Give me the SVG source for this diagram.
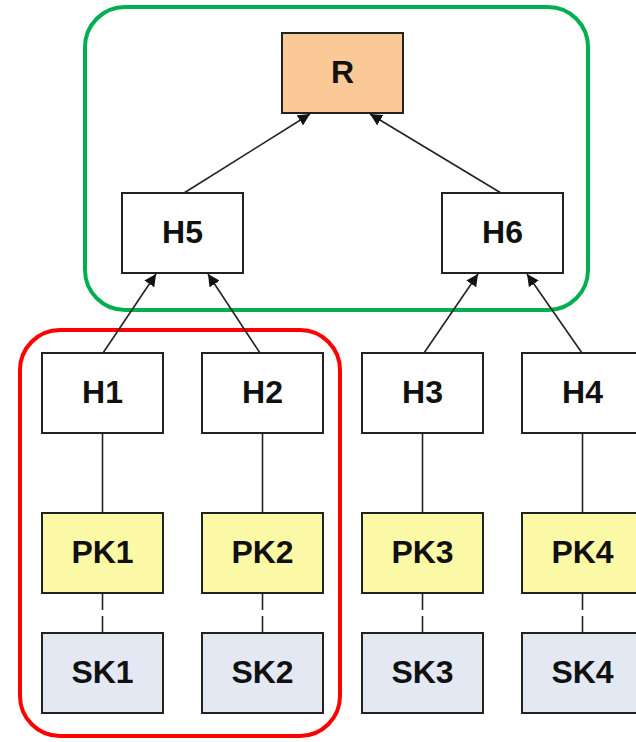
<svg xmlns="http://www.w3.org/2000/svg" width="636" height="742" viewBox="0 0 636 742">
  <style>
    .box { stroke: #222; stroke-width: 2; }
    .plain { fill: #ffffff; }
    .root { fill: #fbc998; }
    .pk { fill: #fbf9a6; }
    .sk { fill: #e3e8f2; }
    .label { font-family: "Liberation Sans", Arial, sans-serif; font-weight: bold; font-size: 32px; fill: #111; text-anchor: middle; }
    .edge { stroke: #222; stroke-width: 1.6; fill: none; }
    .arrow { marker-end: url(#head); }
    .dash { stroke-dasharray: 17 6; }
    .group { fill: none; stroke-width: 4; }
  </style>
  <defs>
    <marker id="head" viewBox="0 0 12 12" refX="12" refY="6" markerWidth="12" markerHeight="12" markerUnits="userSpaceOnUse" orient="auto">
      <path d="M0,0 L12,6 L0,12 Z" fill="#111"/>
    </marker>
  </defs>

  <!-- grouping outlines -->
  <rect id="group-top" class="group" x="85" y="7" width="503" height="303" rx="40" ry="40" stroke="#00b050"/>
  <rect id="group-left" class="group" x="20" y="330" width="320" height="406" rx="40" ry="40" stroke="#ff0000"/>

  <!-- connectors -->
  <g id="connectors">
    <line class="edge arrow" x1="184" y1="193" x2="310" y2="114"/>
    <line class="edge arrow" x1="501" y1="193" x2="370" y2="114"/>
    <line class="edge arrow" x1="103" y1="353" x2="156" y2="274"/>
    <line class="edge arrow" x1="260" y1="353" x2="208" y2="274"/>
    <line class="edge arrow" x1="424" y1="353" x2="478" y2="274"/>
    <line class="edge arrow" x1="582" y1="353" x2="527" y2="274"/>
    <line class="edge" x1="102.5" y1="433" x2="102.5" y2="513"/>
    <line class="edge" x1="262.5" y1="433" x2="262.5" y2="513"/>
    <line class="edge" x1="422.5" y1="433" x2="422.5" y2="513"/>
    <line class="edge" x1="582.5" y1="433" x2="582.5" y2="513"/>
    <line class="edge dash" x1="102.5" y1="593" x2="102.5" y2="633"/>
    <line class="edge dash" x1="262.5" y1="593" x2="262.5" y2="633"/>
    <line class="edge dash" x1="422.5" y1="593" x2="422.5" y2="633"/>
    <line class="edge dash" x1="582.5" y1="593" x2="582.5" y2="633"/>
  </g>

  <!-- nodes -->
  <g id="R"><rect class="box root" x="282" y="33" width="121" height="80"/><text class="label" x="342.5" y="83">R</text></g>
  <g id="H5"><rect class="box plain" x="122" y="193" width="121" height="80"/><text class="label" x="182.5" y="243">H5</text></g>
  <g id="H6"><rect class="box plain" x="442" y="193" width="121" height="80"/><text class="label" x="502.5" y="243">H6</text></g>

  <g id="H1"><rect class="box plain" x="42" y="353" width="121" height="80"/><text class="label" x="102.5" y="403">H1</text></g>
  <g id="H2"><rect class="box plain" x="202" y="353" width="121" height="80"/><text class="label" x="262.5" y="403">H2</text></g>
  <g id="H3"><rect class="box plain" x="362" y="353" width="121" height="80"/><text class="label" x="422.5" y="403">H3</text></g>
  <g id="H4"><rect class="box plain" x="522" y="353" width="121" height="80"/><text class="label" x="582.5" y="403">H4</text></g>

  <g id="PK1"><rect class="box pk" x="42" y="513" width="121" height="80"/><text class="label" x="102.5" y="563">PK1</text></g>
  <g id="PK2"><rect class="box pk" x="202" y="513" width="121" height="80"/><text class="label" x="262.5" y="563">PK2</text></g>
  <g id="PK3"><rect class="box pk" x="362" y="513" width="121" height="80"/><text class="label" x="422.5" y="563">PK3</text></g>
  <g id="PK4"><rect class="box pk" x="522" y="513" width="121" height="80"/><text class="label" x="582.5" y="563">PK4</text></g>

  <g id="SK1"><rect class="box sk" x="42" y="633" width="121" height="80"/><text class="label" x="102.5" y="683">SK1</text></g>
  <g id="SK2"><rect class="box sk" x="202" y="633" width="121" height="80"/><text class="label" x="262.5" y="683">SK2</text></g>
  <g id="SK3"><rect class="box sk" x="362" y="633" width="121" height="80"/><text class="label" x="422.5" y="683">SK3</text></g>
  <g id="SK4"><rect class="box sk" x="522" y="633" width="121" height="80"/><text class="label" x="582.5" y="683">SK4</text></g>
</svg>
